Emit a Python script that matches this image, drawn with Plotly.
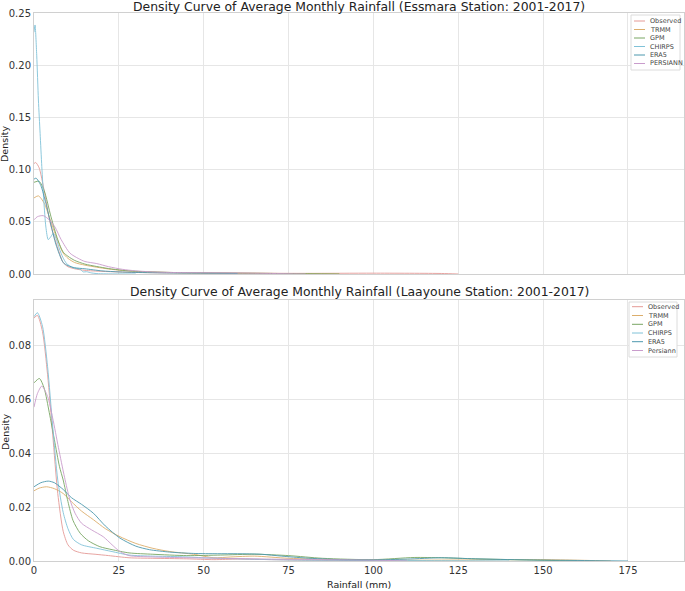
import plotly.graph_objects as go
from plotly.subplots import make_subplots

# series labels and colours
labels_top = ["Observed", "TRMM", "GPM", "CHIRPS", "ERA5", "PERSIANN"]
labels_bot = ["Observed", "TRMM", "GPM", "CHIRPS", "ERA5", "Persiann"]
colors = ["#e49a96", "#dcae6c", "#78a663", "#80c2d8", "#4d98ae", "#c99ccc"]

# Essmara station (top panel) - density curves
obs_top_x = [0, 0.5, 1.5, 3, 4.7, 6.2, 7.5, 8.6, 10, 12, 15, 20, 25, 30, 40, 50, 60, 80, 100, 120, 125]
obs_top_y = [0.106, 0.107, 0.102, 0.080, 0.050, 0.033, 0.020, 0.011, 0.007, 0.005, 0.0035, 0.0025, 0.002,
             0.0015, 0.001, 0.001, 0.0008, 0.0006, 0.0008, 0.0005, 0.0]
trmm_top_x = [0, 1.3, 3, 5, 7, 8.6, 10, 12, 15, 18.5, 22, 26, 30, 40, 50, 60, 75, 90]
trmm_top_y = [0.073, 0.075, 0.068, 0.050, 0.032, 0.020, 0.015, 0.011, 0.0085, 0.0065, 0.0048, 0.0034,
              0.0024, 0.0015, 0.001, 0.0008, 0.0004, 0.0]
gpm_top_x = [0, 1.5, 3, 5, 7, 8.6, 10, 12, 15, 18.5, 22, 26, 30, 40, 50, 60, 75, 90]
gpm_top_y = [0.088, 0.089, 0.080, 0.055, 0.033, 0.021, 0.017, 0.013, 0.0095, 0.0072, 0.0052, 0.0036,
             0.0026, 0.0015, 0.001, 0.0008, 0.0004, 0.0]
chirps_top_x = [0, 0.3, 0.8, 1.3, 1.8, 2.3, 2.9, 3.5, 4.2, 5.0, 5.7, 6.5, 7.5, 8.5, 9.6, 11.5, 13.6,
                14.5, 15.5, 17, 19, 22, 30]
chirps_top_y = [0.232, 0.239, 0.210, 0.167, 0.135, 0.103, 0.070, 0.045, 0.033, 0.036, 0.039, 0.034,
                0.024, 0.016, 0.010, 0.006, 0.0045, 0.002, 0.0022, 0.001, 0.0003, 0.0001, 0.0]
era5_top_x = [0, 0.6, 2, 3.5, 5, 6.5, 8.6, 10, 12, 15, 20, 25, 30, 40, 50, 60]
era5_top_y = [0.091, 0.092, 0.085, 0.068, 0.047, 0.028, 0.011, 0.008, 0.006, 0.005, 0.003, 0.002,
              0.0015, 0.001, 0.0008, 0.0005]
pers_top_x = [0, 1, 2.7, 4.5, 6.2, 8, 10.6, 13, 15, 18.5, 22, 26, 30, 35, 40, 50, 60, 70, 80]
pers_top_y = [0.052, 0.055, 0.056, 0.052, 0.045, 0.033, 0.020, 0.015, 0.012, 0.010, 0.007, 0.0045,
              0.003, 0.002, 0.0015, 0.0012, 0.001, 0.0005, 0.0]

# Laayoune station (bottom panel)
obs_bot_x = [0, 1, 2.5, 4, 5.5, 7, 8.6, 10, 11.6, 14, 18, 22, 28, 35, 45, 53, 60, 70, 80, 100]
obs_bot_y = [0.090, 0.091, 0.085, 0.069, 0.047, 0.025, 0.011, 0.006, 0.004, 0.003, 0.0025, 0.002,
             0.0012, 0.001, 0.0008, 0.0005, 0.0007, 0.0005, 0.0003, 0.0]
trmm_bot_x = [0, 1.5, 3.7, 6, 8.6, 11, 14, 17.5, 21, 25, 30, 35, 40, 47, 53, 58, 65, 75, 90, 110,
              130, 150, 160, 170]
trmm_bot_y = [0.026, 0.027, 0.0275, 0.0268, 0.025, 0.022, 0.0185, 0.0153, 0.012, 0.0092, 0.0065,
              0.0047, 0.0035, 0.0025, 0.0012, 0.0015, 0.0018, 0.001, 0.0005, 0.0003, 0.0004, 0.0005,
              0.0003, 0.0]
gpm_bot_x = [0, 1.6, 3, 4.5, 6, 7.5, 8.6, 10, 11.5, 13.6, 16, 19.4, 23, 28, 35, 45, 55, 65, 75, 85,
             100, 112, 120, 130, 145, 160]
gpm_bot_y = [0.066, 0.0676, 0.064, 0.055, 0.045, 0.035, 0.030, 0.022, 0.015, 0.0103, 0.0075, 0.0053,
             0.0042, 0.003, 0.0025, 0.002, 0.0022, 0.0025, 0.002, 0.001, 0.0005, 0.0013, 0.0012,
             0.0008, 0.0004, 0.0]
chirps_bot_x = [0, 1, 2.5, 4, 5.5, 7, 8.6, 10, 11.6, 14, 18.5, 23, 28, 35, 43, 50, 60, 70, 80, 100,
                120, 140]
chirps_bot_y = [0.0905, 0.092, 0.087, 0.072, 0.050, 0.030, 0.018, 0.012, 0.008, 0.006, 0.0047,
                0.0035, 0.0022, 0.0018, 0.0016, 0.0012, 0.0008, 0.0005, 0.0003, 0.0002, 0.0001, 0.0]
era5_bot_x = [0, 2, 4.2, 6, 8.6, 11, 14, 17.5, 21, 25.3, 30, 34, 40, 47, 54, 60, 67, 73, 80, 90, 100,
              110, 120, 130, 145, 160, 175]
era5_bot_y = [0.0275, 0.029, 0.0296, 0.029, 0.0265, 0.0235, 0.021, 0.0177, 0.013, 0.0085, 0.0055,
              0.0042, 0.0033, 0.0028, 0.0027, 0.0027, 0.0025, 0.0018, 0.0011, 0.0005, 0.0004,
              0.0007, 0.0012, 0.0008, 0.0004, 0.0002, 0.0]
pers_bot_x = [0, 1, 2.3, 4, 5.5, 7.2, 9, 10.5, 12.1, 14, 17, 20.4, 23, 25.3, 28, 35, 45, 55, 70, 85,
              100, 110]
pers_bot_y = [0.057, 0.062, 0.0648, 0.061, 0.053, 0.042, 0.031, 0.023, 0.0177, 0.014, 0.0115, 0.009,
              0.006, 0.0035, 0.002, 0.0015, 0.0012, 0.001, 0.0007, 0.0005, 0.0003, 0.0]

top_series = [(obs_top_x, obs_top_y), (trmm_top_x, trmm_top_y), (gpm_top_x, gpm_top_y),
              (chirps_top_x, chirps_top_y), (era5_top_x, era5_top_y), (pers_top_x, pers_top_y)]
bot_series = [(obs_bot_x, obs_bot_y), (trmm_bot_x, trmm_bot_y), (gpm_bot_x, gpm_bot_y),
              (chirps_bot_x, chirps_bot_y), (era5_bot_x, era5_bot_y), (pers_bot_x, pers_bot_y)]

W, H = 685, 591
L, R, T, B = 34, 1, 13, 30
PW, PH = W - L - R, H - T - B


def px(x):
    return (x - L) / PW


def py(y):
    return (H - B - y) / PH


fig = make_subplots(rows=2, cols=1, vertical_spacing=26 / PH)

for row, series in [(1, top_series), (2, bot_series)]:
    for (xs, ys), c in zip(series, colors):
        fig.add_scatter(x=xs, y=ys, mode="lines", line=dict(color=c, width=0.9, shape="spline", smoothing=0.7),
                        showlegend=False, row=row, col=1)

axis_style = dict(showgrid=True, gridcolor="#e6e6e6", gridwidth=1, zeroline=False, automargin=False,
                  showline=True, mirror=True, linecolor="#d0d0d0", linewidth=1,
                  ticks="", tickfont=dict(size=10, color="#333"))
fig.update_xaxes(range=[0, 191.5], tickvals=[0, 25, 50, 75, 100, 125, 150, 175], **axis_style)
fig.update_xaxes(showticklabels=False, row=1, col=1)
fig.update_yaxes(**axis_style)
fig.update_yaxes(range=[0, 0.2505], tickvals=[0, 0.05, 0.10, 0.15, 0.20, 0.25], tickformat=".2f", row=1, col=1)
fig.update_yaxes(range=[0, 0.0967], tickvals=[0, 0.02, 0.04, 0.06, 0.08], tickformat=".2f", row=2, col=1)


def note(text, x, y, size, **kw):
    d = dict(text=text, x=px(x), y=py(y), xref="paper", yref="paper", showarrow=False,
             xanchor="center", yanchor="middle", font=dict(size=size, color="#222"))
    d.update(kw)
    return d


ann = []
shapes = []
ann.append(note("Density Curve of Average Monthly Rainfall (Essmara Station: 2001-2017)", 359, 6, 12.4))
ann.append(note("Density Curve of Average Monthly Rainfall (Laayoune Station: 2001-2017)", 359, 291, 12.4))
for yc in [144, 432]:
    ann.append(note("Density", 5, yc, 9.5, textangle=-90))
ann.append(note("Rainfall (mm)", 359, 584, 9.5))

# hand-drawn legends, one per panel
for labels, box, rows in [
    (labels_top, (631, 15, 680, 70), [21, 29.5, 38, 46.5, 55, 63.5]),
    (labels_bot, (629, 302, 677, 357), [306.7, 315.5, 324.3, 333, 341.7, 350.5]),
]:
    x0, y0, x1, y1 = box
    shapes.append(dict(type="rect", xref="paper", yref="paper", x0=px(x0), x1=px(x1), y0=py(y1), y1=py(y0),
                       line=dict(color="#dcdcdc", width=1), fillcolor="white", layer="above"))
    for lab, c, yr in zip(labels, colors, rows):
        shapes.append(dict(type="line", xref="paper", yref="paper", x0=px(x0 + 3), x1=px(x0 + 14),
                           y0=py(yr), y1=py(yr), line=dict(color=c, width=1), layer="above"))
        ann.append(note(lab, x0 + 17, yr, 6.5, xanchor="left", font=dict(size=6.5, color="#444")))

fig.update_layout(
    width=W, height=H,
    margin=dict(l=L, r=R, t=T, b=B),
    plot_bgcolor="white", paper_bgcolor="white",
    font=dict(family="DejaVu Sans"),
    annotations=ann, shapes=shapes,
    showlegend=False,
)

# drop the default page margin so the figure sits at the window corner
fig.write_html("out.html", config={"displayModeBar": False},
               post_script="document.body.style.margin='0';document.body.style.overflow='hidden';")
